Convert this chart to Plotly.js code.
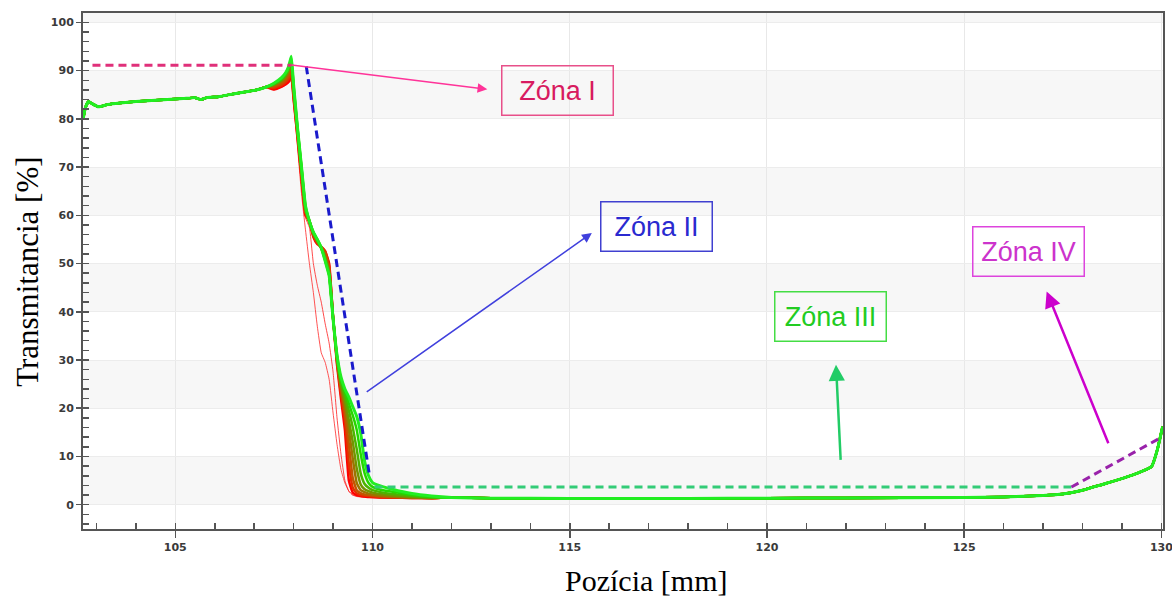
<!DOCTYPE html>
<html><head><meta charset="utf-8">
<script src="https://cdn.plot.ly/plotly-3.0.1.min.js"></script>
<style>html,body{margin:0;padding:0;background:#fff;}#chart{width:1172px;height:596px;}</style>
</head><body><div id="chart"></div>
<script>
// shared plateau (head), transition x grid (seg), and shared flat tail
const headX = [102.66, 102.72, 102.8, 102.9, 103.05, 103.3, 103.6, 104.0, 104.4, 104.8, 105.2, 105.5, 105.65, 105.8, 106.1, 106.5, 106.8, 107.1, 107.3];
const headY = [79.8, 82.3, 83.6, 83.1, 82.5, 83.0, 83.3, 83.6, 83.8, 84.0, 84.2, 84.4, 84.0, 84.4, 84.6, 85.2, 85.6, 86.1, 86.6];
const segX = [107.5, 107.7, 107.8, 107.88, 107.94, 108.0, 108.1, 108.2, 108.3, 108.4, 108.5, 108.6, 108.7, 108.8, 108.9, 109.0, 109.1, 109.2, 109.3, 109.4, 109.5, 109.6, 109.7, 109.8, 109.9, 110.0, 110.2, 110.5, 111.0, 111.5];
const tailX = [112, 113, 115, 118, 120, 122, 125, 126, 127, 127.5, 128, 128.5, 129, 129.5, 129.75, 129.9, 130.03];
const tailY = [1.5, 1.35, 1.3, 1.3, 1.35, 1.4, 1.5, 1.6, 1.9, 2.2, 3.0, 4.2, 5.4, 6.9, 7.9, 11.5, 16.2];

// transition part of each measured curve (red = first, green = last)
const curve0 = [86.0, 86.6, 87.0, 87.4, 88.0, 83.0, 74.0, 64.5, 57.0, 50.0, 44.0, 37.0, 31.5, 29.5, 26.0, 19.0, 12.5, 7.3, 4.5, 2.8, 2.0, 1.7, 1.6, 1.5, 1.5, 1.4, 1.4, 1.35, 1.3, 1.3];
const curve1 = [86.2, 86.9, 87.4, 87.9, 88.6, 84.0, 75.5, 66.5, 59.5, 57.5, 50.0, 45.5, 42.0, 37.5, 33.5, 27.5, 18.0, 10.5, 5.0, 2.8, 2.0, 1.8, 1.7, 1.6, 1.5, 1.5, 1.4, 1.4, 1.35, 1.3];
const curve2 = [86.1, 86.7, 87.2, 87.8, 88.9, 84.0, 76.0, 67.5, 60.0, 58.8, 55.5, 54.0, 53.5, 52.5, 50.0, 38.5, 29.0, 22.0, 15.5, 5.0, 2.5, 2.0, 1.8, 1.7, 1.6, 1.6, 1.5, 1.45, 1.4, 1.35];
const curve3 = [86.4, 87.0, 87.6, 88.4, 89.6, 84.5, 76.5, 68.0, 60.5, 58.5, 55.8, 54.2, 53.4, 52.6, 49.5, 38.8, 29.5, 23.0, 17.5, 8.5, 3.5, 2.4, 2.0, 1.9, 1.8, 1.7, 1.6, 1.5, 1.4, 1.35];
const curve4 = [86.7, 87.4, 88.1, 89.0, 90.3, 85.0, 77.0, 68.5, 60.8, 58.9, 56.2, 54.5, 53.3, 52.2, 49.0, 39.0, 30.0, 24.0, 19.0, 12.5, 5.5, 3.0, 2.4, 2.1, 2.0, 1.9, 1.7, 1.6, 1.45, 1.4];
const curve5 = [87.0, 87.8, 88.6, 89.8, 91.2, 85.5, 77.0, 69.0, 61.0, 58.6, 56.0, 54.6, 53.2, 51.5, 48.2, 38.8, 30.0, 24.5, 20.5, 15.5, 9.5, 4.5, 3.0, 2.6, 2.3, 2.1, 1.9, 1.7, 1.5, 1.4];
const curve6 = [87.1, 88.0, 89.0, 90.2, 91.8, 86.0, 77.5, 69.5, 61.2, 58.8, 56.3, 54.8, 53.1, 51.0, 47.9, 38.6, 30.5, 25.0, 21.5, 17.5, 13.0, 7.5, 4.2, 3.2, 2.8, 2.5, 2.2, 1.9, 1.6, 1.45];
const curve7 = [87.2, 88.2, 89.2, 90.5, 92.3, 86.5, 77.8, 69.8, 61.6, 58.7, 56.4, 54.9, 53.2, 50.8, 47.8, 38.7, 30.5, 25.5, 22.5, 19.5, 16.0, 11.5, 6.5, 4.3, 3.5, 3.0, 2.6, 2.2, 1.8, 1.5];
const curve8 = [87.3, 88.4, 89.4, 90.8, 92.7, 86.8, 78.0, 70.0, 62.0, 58.8, 56.5, 55.0, 53.3, 50.6, 47.6, 38.5, 31.0, 26.0, 23.5, 21.0, 18.5, 15.5, 10.5, 6.5, 4.5, 3.7, 3.1, 2.7, 2.0, 1.6];
const curve9 = [87.4, 88.6, 89.6, 91.0, 93.0, 87.0, 78.0, 70.0, 62.0, 58.8, 56.5, 55.0, 53.3, 50.5, 47.5, 38.5, 31.0, 26.5, 24.0, 22.3, 20.3, 18.3, 14.8, 9.0, 6.0, 4.6, 3.9, 3.2, 2.3, 1.8];

// zone reference lines
const zone1X = [102.9, 107.95], zone1Y = [91.1, 91.1];
const zone2X = [108.32, 109.92], zone2Y = [90.9, 6.2];
const zone3X = [110.05, 127.72], zone3Y = [3.67, 3.67];
const zone4X = [127.72, 129.96], zone4Y = [3.67, 13.8];

const zoneLabels = ['Zóna I', 'Zóna II', 'Zóna III', 'Zóna IV'];

const curves = [curve0, curve1, curve2, curve3, curve4, curve5, curve6, curve7, curve8, curve9];
const colors = ['rgba(255,40,40,0.8)', 'rgba(255,30,30,0.8)', '#ff0000', '#e62e00', '#c45400', '#9c7400', '#739400', '#4cb400', '#26d600', '#22ee22'];
const widths = [1, 1, 2.5, 2.5, 2.5, 2.5, 2.5, 2.5, 2.5, 3];

const traces = curves.map((c, i) => ({
  type: 'scatter', mode: 'lines',
  x: headX.concat(segX, tailX),
  y: headY.concat(c, tailY),
  line: {color: colors[i], width: widths[i], shape: 'spline', smoothing: 0.4},
  hoverinfo: 'skip', showlegend: false
}));
function dashed(x, y, color) {
  return {type: 'scatter', mode: 'lines', x: x, y: y, showlegend: false, hoverinfo: 'skip',
    line: {color: color, width: 3, dash: '8px,5px'}};
}
traces.push(dashed(zone1X, zone1Y, '#e0307a'));
traces.push(dashed(zone2X, zone2Y, '#1a1acc'));
traces.push(dashed(zone3X, zone3Y, '#33cc77'));
traces.push(dashed(zone4X, zone4Y, '#9922aa'));

const shapes = [[0,10],[20,30],[40,50],[60,70],[80,90],[100,110]].map(b => ({
  type: 'rect', xref: 'paper', x0: 0, x1: 1, yref: 'y', y0: b[0], y1: b[1],
  fillcolor: '#f7f7f7', line: {width: 0}, layer: 'below'
}));

function box(text, x, y, tc, bc) {
  return {text: text, x: x, y: y, xref: 'x', yref: 'y', showarrow: false,
    font: {family: 'Liberation Sans, Arial', size: 27, color: tc},
    bordercolor: bc, borderwidth: 1.5, borderpad: 5, width: 100, height: 38, bgcolor: 'rgba(255,255,255,0)'};
}
function arrow(x, y, ax, ay, color, w) {
  return {text: '', x: x, y: y, ax: ax, ay: ay, xref: 'x', yref: 'y', axref: 'x', ayref: 'y',
    showarrow: true, arrowhead: 2, arrowsize: 1.3, arrowwidth: w, arrowcolor: color, standoff: 0, startstandoff: 0};
}
const tickFont = {family: 'DejaVu Sans', size: 11, color: '#3a3a3a', weight: 'bold'};
const annotations = [
  box(zoneLabels[0], 114.68, 85.94, '#d81b60', '#e8508a'),
  box(zoneLabels[1], 117.19, 57.70, '#2a2ad0', '#4040d0'),
  box(zoneLabels[2], 121.60, 39.02, '#22cc22', '#44dd44'),
  box(zoneLabels[3], 126.63, 52.52, '#cc33cc', '#dd44dd'),
  arrow(112.91, 86.15, 107.91, 91.2, '#ff3399', 1.5),
  arrow(115.56, 56.33, 109.815, 23.16, '#4040dd', 1.5),
  arrow(121.75, 29.03, 121.87, 8.98, '#22cc66', 2.5),
  arrow(127.09, 44.23, 128.67, 12.44, '#cc00cc', 2.5),
  {text: 'Transmitancia [%]', textangle: -90, xref: 'paper', yref: 'paper', x: -0.052, y: 0.498,
   xanchor: 'center', yanchor: 'middle', showarrow: false,
   font: {family: 'Liberation Serif, Times New Roman', size: 31, color: '#000'}},
  {text: 'Pozícia [mm]', xref: 'paper', yref: 'paper', x: 0.521, y: -0.064,
   xanchor: 'center', yanchor: 'top', showarrow: false,
   font: {family: 'Liberation Serif, Times New Roman', size: 30, color: '#000'}}
];

const layout = {
  width: 1172, height: 596,
  margin: {l: 83, r: 9, t: 13, b: 67},
  paper_bgcolor: '#fff', plot_bgcolor: '#fff',
  showlegend: false,
  xaxis: {range: [102.66, 130.04], dtick: 5, tick0: 0, ticks: 'outside', ticklen: 7, tickwidth: 1.5, tickcolor: '#555',
    showline: true, linecolor: '#555', linewidth: 2, mirror: true, showgrid: true, gridcolor: '#e8e8e8', zeroline: false,
    minor: {dtick: 1, ticks: 'inside', ticklen: 6, tickcolor: '#555', tickwidth: 1.5, showgrid: false},
    tickfont: tickFont, ticklabeloverflow: 'allow'},
  yaxis: {range: [-5.04, 101.95], dtick: 10, tick0: 0, ticks: 'outside', ticklen: 5, tickwidth: 1.5, tickcolor: '#555',
    showline: true, linecolor: '#555', linewidth: 2, mirror: true, showgrid: true, gridcolor: '#ececec', zeroline: false,
    minor: {dtick: 2, ticks: 'inside', ticklen: 6, tickcolor: '#555', tickwidth: 1.5, showgrid: false},
    tickfont: tickFont},
  shapes: shapes,
  annotations: annotations
};
Plotly.newPlot('chart', traces, layout, {staticPlot: true, displayModeBar: false});
</script></body></html>
